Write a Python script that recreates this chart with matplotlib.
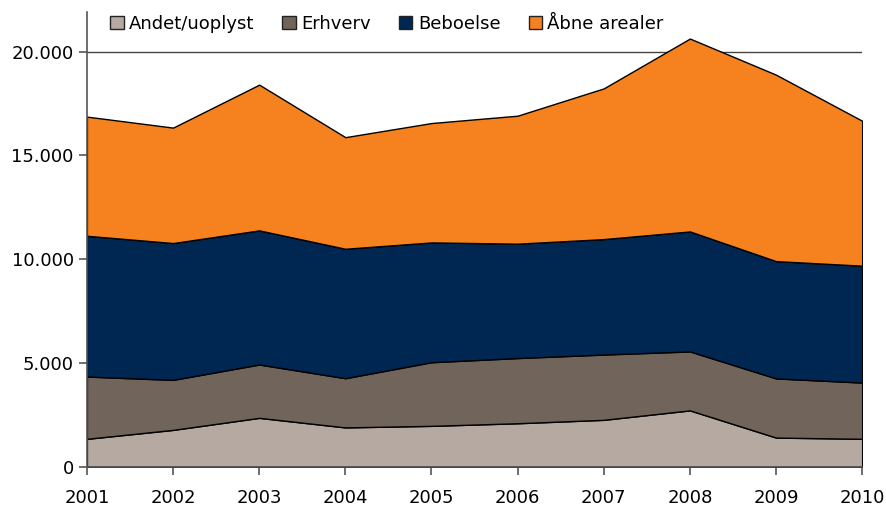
import matplotlib
matplotlib.use("Agg")
import matplotlib.pyplot as plt
from matplotlib.ticker import FuncFormatter

years = [2001, 2002, 2003, 2004, 2005, 2006, 2007, 2008, 2009, 2010]
andet = [1350, 1780, 2360, 1900, 1975, 2100, 2265, 2720, 1410, 1350]
erhverv = [3000, 2410, 2570, 2370, 3065, 3140, 3145, 2840, 2850, 2710]
beboelse = [6780, 6590, 6460, 6235, 5770, 5510, 5560, 5780, 5650, 5630]
aabne = [5740, 5560, 7020, 5375, 5750, 6165, 7260, 9290, 8980, 6980]

labels = ["Andet/uoplyst", "Erhverv", "Beboelse", "Åbne arealer"]
colors = ["#b5a9a1", "#71645a", "#002752", "#f5821f"]

fig = plt.figure(figsize=(8.87, 5.08), dpi=100)
ax = fig.add_axes([0.098, 0.081, 0.874, 0.895])

polys = ax.stackplot(years, andet, erhverv, beboelse, aabne, colors=colors,
                     labels=labels, edgecolor="black", linewidth=1.0, zorder=2)

ax.set_xlim(2001, 2010)
ax.set_ylim(0, 21900)
ax.set_xticks(years)
ax.set_yticks([0, 5000, 10000, 15000, 20000])
ax.yaxis.set_major_formatter(FuncFormatter(lambda v, p: f"{int(v):,}".replace(",", ".")))
ax.yaxis.grid(True, color="#444444", linewidth=1.0, zorder=0)
ax.set_axisbelow(True)

for s in ["top", "right"]:
    ax.spines[s].set_visible(False)
ax.spines["left"].set_color("#555555")
ax.spines["bottom"].set_color("#555555")
ax.spines["left"].set_linewidth(1.2)
ax.spines["bottom"].set_linewidth(1.2)
ax.tick_params(axis="both", labelsize=13, color="#555555", length=6, width=1.2)
ax.tick_params(axis="x", pad=10)

leg = ax.legend(loc="upper center", bbox_to_anchor=(0.387, 1.03), ncol=4,
                frameon=False, fontsize=13, handlelength=0.75, handleheight=0.75,
                handletextpad=0.3, columnspacing=1.55)
for h in leg.legend_handles:
    h.set_edgecolor("#222222")
    h.set_linewidth(1.0)

fig.savefig("out.png", dpi=100)
